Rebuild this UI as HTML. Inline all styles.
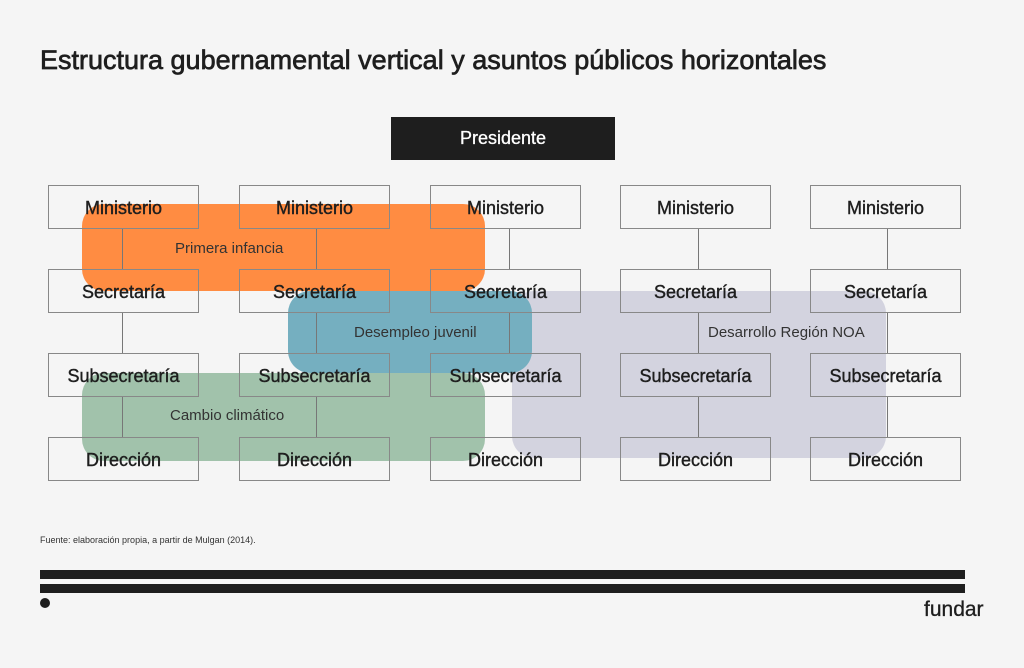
<!DOCTYPE html><html><head><style>
body{margin:0;width:1024px;height:668px;background:#f5f5f5;font-family:"Liberation Sans",sans-serif;position:relative;overflow:hidden;color:#1e1e1e}
div{position:absolute;box-sizing:border-box}
.b{width:151px;height:44px;border:1px solid #888;display:flex;align-items:center;justify-content:center;font-size:18px;z-index:3;padding-top:2px;-webkit-text-stroke:0.4px #1e1e1e}
.l{width:1px;background:#777;z-index:2;height:40px}
.g{border-radius:22px;z-index:1}
.t{font-size:15px;z-index:4;color:#333}
</style></head><body>
<div style="left:40px;top:45px;font-size:27px;-webkit-text-stroke:0.7px #1e1e1e">Estructura gubernamental vertical y asuntos públicos horizontales</div>
<div style="left:391px;top:117px;width:224px;height:43px;background:#1e1e1e;color:#fff;font-size:18px;display:flex;align-items:center;justify-content:center;-webkit-text-stroke:0.3px #fff">Presidente</div>
<div class="g" style="left:82px;top:204px;width:403px;height:87px;background:#ff8c42"></div>
<div class="g" style="left:512px;top:291px;width:374px;height:167px;background:#d3d3df"></div>
<div class="g" style="left:288px;top:291px;width:244px;height:82px;background:#75afc0"></div>
<div class="g" style="left:82px;top:373px;width:403px;height:88px;background:#a1c2ab"></div>
<div class="t" style="left:175px;top:240px">Primera infancia</div>
<div class="t" style="left:354px;top:324px">Desempleo juvenil</div>
<div class="t" style="left:708px;top:324px">Desarrollo Región NOA</div>
<div class="t" style="left:170px;top:407px">Cambio climático</div>
<div class="l" style="left:122px;top:229px"></div><div class="l" style="left:122px;top:313px"></div><div class="l" style="left:122px;top:397px"></div>
<div class="l" style="left:316px;top:229px"></div><div class="l" style="left:316px;top:313px"></div><div class="l" style="left:316px;top:397px"></div>
<div class="l" style="left:509px;top:229px"></div><div class="l" style="left:509px;top:313px"></div>
<div class="l" style="left:698px;top:229px"></div><div class="l" style="left:698px;top:313px"></div><div class="l" style="left:698px;top:397px"></div>
<div class="l" style="left:887px;top:229px"></div><div class="l" style="left:887px;top:313px"></div><div class="l" style="left:887px;top:397px"></div>
<div class="b" style="left:48px;top:185px">Ministerio</div>
<div class="b" style="left:239px;top:185px">Ministerio</div>
<div class="b" style="left:430px;top:185px">Ministerio</div>
<div class="b" style="left:620px;top:185px">Ministerio</div>
<div class="b" style="left:810px;top:185px">Ministerio</div>
<div class="b" style="left:48px;top:269px">Secretaría</div>
<div class="b" style="left:239px;top:269px">Secretaría</div>
<div class="b" style="left:430px;top:269px">Secretaría</div>
<div class="b" style="left:620px;top:269px">Secretaría</div>
<div class="b" style="left:810px;top:269px">Secretaría</div>
<div class="b" style="left:48px;top:353px">Subsecretaría</div>
<div class="b" style="left:239px;top:353px">Subsecretaría</div>
<div class="b" style="left:430px;top:353px">Subsecretaría</div>
<div class="b" style="left:620px;top:353px">Subsecretaría</div>
<div class="b" style="left:810px;top:353px">Subsecretaría</div>
<div class="b" style="left:48px;top:437px">Dirección</div>
<div class="b" style="left:239px;top:437px">Dirección</div>
<div class="b" style="left:430px;top:437px">Dirección</div>
<div class="b" style="left:620px;top:437px">Dirección</div>
<div class="b" style="left:810px;top:437px">Dirección</div>
<div style="left:40px;top:535px;font-size:9px;color:#333">Fuente: elaboración propia, a partir de Mulgan (2014).</div>
<div style="left:40px;top:570px;width:925px;height:9px;background:#1e1e1e"></div>
<div style="left:40px;top:584px;width:925px;height:9px;background:#1e1e1e"></div>
<div style="left:40px;top:598px;width:10px;height:10px;border-radius:50%;background:#1e1e1e"></div>
<div style="left:924px;top:598px;font-size:21px;-webkit-text-stroke:0.3px #1e1e1e">fundar</div>
</body></html>
